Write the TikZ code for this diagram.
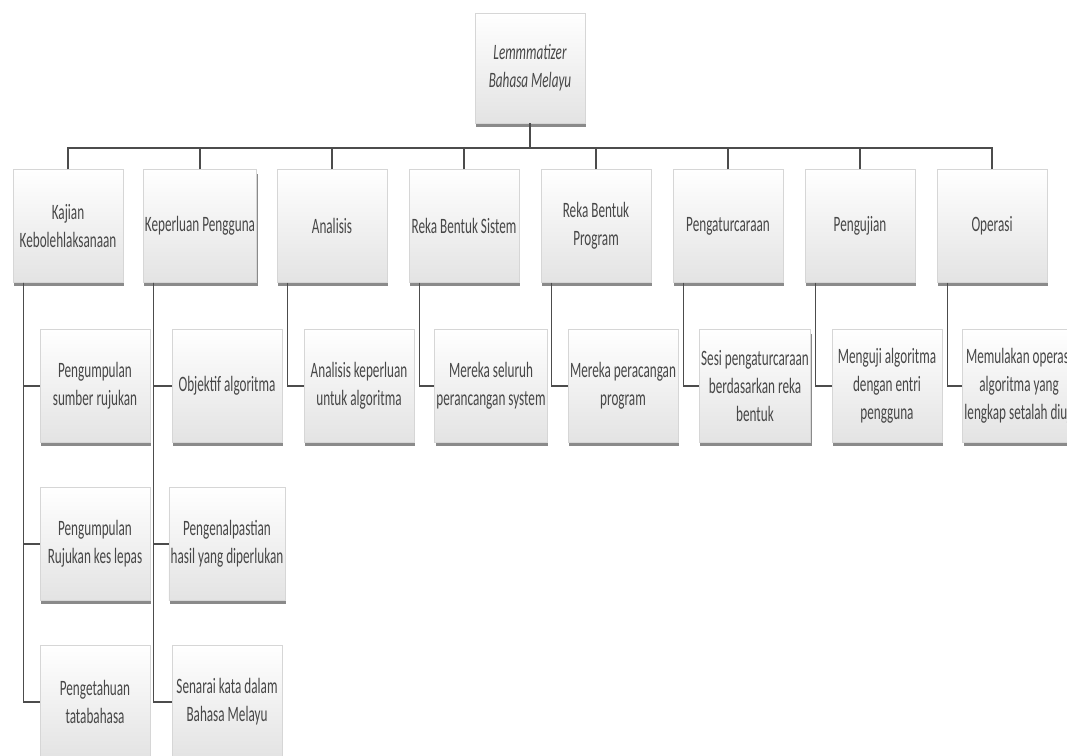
\documentclass[tikz,border=0pt]{standalone}
\usepackage{fontspec}
\setmainfont{Carlito}[FakeStretch=0.6]
\usetikzlibrary{shadows}
\definecolor{garisbox}{gray}{0.84}
\definecolor{teksbox}{gray}{0.28}
\definecolor{garishub}{gray}{0.3}
\begin{document}
\begin{tikzpicture}[x=0.02cm, y=-0.02cm,
  kotak/.style={draw=garisbox, top color=white, bottom color=gray!22, text=teksbox, align=center,
    minimum width=2.2cm, minimum height=2.25cm, inner sep=1pt, font=\fontsize{12.5}{16}\selectfont,
    drop shadow={shadow xshift=0.02cm, shadow yshift=-0.08cm, opacity=0.7, fill=black!65}},
  hub/.style={draw=garishub, line width=0.75pt}]
	\fill[white] (0,0) rectangle (1067,755);
	\useasboundingbox (0,0) rectangle (1067,755);
	% akar
	\node[kotak, minimum height=2.2cm, font=\fontsize{12.5}{16}\selectfont\itshape] (LBM) at (530,68) {Lemmmatizer\\Bahasa Melayu};
	% fasa
	\node[kotak] (KK) at (68,226) {Kajian\\Kebolehlaksanaan};
	\node[kotak] (KP) at (200,226) {Keperluan Pengguna};
	\node[kotak] (AN) at (332,226) {Analisis};
	\node[kotak] (RBS) at (464,226) {Reka Bentuk Sistem};
	\node[kotak] (RBP) at (596,226) {Reka Bentuk\\Program};
	\node[kotak] (PC) at (728,226) {Pengaturcaraan};
	\node[kotak] (PU) at (860,226) {Pengujian};
	\node[kotak] (OP) at (992,226) {Operasi};
	% aktiviti
	\node[kotak] (KK1) at (95,386) {Pengumpulan\\sumber rujukan};
	\node[kotak] (KK2) at (95,544) {Pengumpulan\\Rujukan kes lepas};
	\node[kotak] (KK3) at (95,702) {Pengetahuan\\tatabahasa};
	\node[kotak] (KP1) at (227,386) {Objektif algoritma};
	\node[kotak] (KP2) at (227,544) {Pengenalpastian\\hasil yang diperlukan};
	\node[kotak] (KP3) at (227,702) {Senarai kata dalam\\Bahasa Melayu};
	\node[kotak] (AN1) at (359,386) {Analisis keperluan\\untuk algoritma};
	\node[kotak] (RBS1) at (491,386) {Mereka seluruh\\perancangan system};
	\node[kotak] (RBP1) at (623,386) {Mereka peracangan\\program};
	\node[kotak] (PC1) at (755,386) {Sesi pengaturcaraan\\berdasarkan reka\\bentuk};
	\node[kotak] (PU1) at (887,386) {Menguji algoritma\\dengan entri\\pengguna};
	\node[kotak] (OP1) at (1019,386) {Memulakan operasi\\algoritma yang\\lengkap setalah diuji};
	% penghubung
	\coordinate (bus) at (530,148);
	\draw[hub] (LBM) -- (bus);
	\foreach \n in {KK,KP,AN,RBS,RBP,PC,PU,OP}
		\draw[hub] (\n.north) |- (bus);
	\foreach \p/\c in {KK/KK1,KK/KK2,KK/KK3,KP/KP1,KP/KP2,KP/KP3,AN/AN1,RBS/RBS1,RBP/RBP1,PC/PC1,PU/PU1,OP/OP1}
		\draw[hub] ([xshift=0.22cm]\p.south west) |- (\c.west);
\end{tikzpicture}
\end{document}
